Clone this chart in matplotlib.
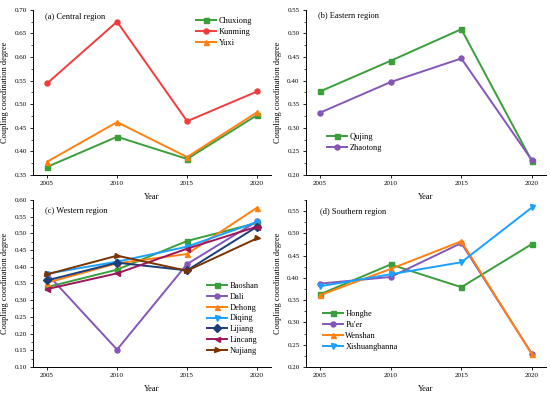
import matplotlib
matplotlib.use("Agg")
import matplotlib.pyplot as plt
from matplotlib.ticker import MultipleLocator, AutoMinorLocator, FormatStrFormatter

plt.rcParams['font.family'] = ['Liberation Serif', 'DejaVu Serif']

years = [2005, 2010, 2015, 2020]

central_names = ["Chuxiong", "Kunming", "Yuxi"]
chuxiong = [0.367, 0.431, 0.384, 0.477]
kunming = [0.544, 0.675, 0.464, 0.527]
yuxi = [0.378, 0.462, 0.388, 0.483]

eastern_names = ["Qujing", "Zhaotong"]
qujing = [0.377, 0.442, 0.509, 0.229]
zhaotong = [0.332, 0.397, 0.447, 0.231]

western_names = ["Baoshan", "Dali", "Dehong", "Diqing", "Lijiang", "Lincang", "Nujiang"]
baoshan = [0.339, 0.391, 0.477, 0.531]
dali = [0.379, 0.152, 0.408, 0.536]
dehong = [0.352, 0.410, 0.438, 0.577]
diqing = [0.379, 0.415, 0.460, 0.534]
lijiang = [0.359, 0.412, 0.389, 0.520]
lincang = [0.333, 0.380, 0.454, 0.520]
nujiang = [0.377, 0.433, 0.388, 0.485]

southern_names = ["Honghe", "Pu'er", "Wenshan", "Xishuangbanna"]
honghe = [0.363, 0.430, 0.379, 0.476]
puer = [0.387, 0.402, 0.478, 0.229]
wenshan = [0.361, 0.420, 0.482, 0.228]
xishuang = [0.381, 0.408, 0.435, 0.558]

GREEN = "#3a9e3a"
RED = "#f23c3c"
ORANGE = "#ff8010"
PURPLE = "#8456b8"
LBLUE = "#1aa0ff"
NAVY = "#1c3d78"
CRIMSON = "#a0145a"
BROWN = "#7a3300"

fig = plt.figure(figsize=(5.5, 3.95), dpi=100)

def make_ax(rect, ylim, title, title_pos, names, series, styles, legend_anchor):
    ax = fig.add_axes(rect)
    for name, vals, (c, m) in zip(names, series, styles):
        ax.plot(years, vals, color=c, marker=m, markersize=3.6, linewidth=1.4, label=name)
    ax.set_xlim(2004, 2021)
    ax.set_ylim(*ylim)
    ax.set_xticks(years)
    ax.yaxis.set_major_locator(MultipleLocator(0.05))
    ax.yaxis.set_minor_locator(AutoMinorLocator(2))
    ax.yaxis.set_major_formatter(FormatStrFormatter('%.2f'))
    for s in ['top', 'right']:
        ax.spines[s].set_visible(False)
    for s in ['left', 'bottom']:
        ax.spines[s].set_linewidth(0.7)
    ax.tick_params(direction='out', labelsize=5, length=2.5, width=0.6, pad=2)
    ax.tick_params(which='minor', direction='out', length=1.5, width=0.5)
    ax.set_xlabel("Year", fontsize=6, labelpad=5)
    ax.set_ylabel("Coupling coordination degree", fontsize=6, labelpad=4)
    ax.text(title_pos[0], title_pos[1], title, transform=ax.transAxes, fontsize=6,
            va='center', ha='left')
    ax.legend(loc='upper left', bbox_to_anchor=legend_anchor, frameon=False, fontsize=6,
              handlelength=2.4, handletextpad=0.3, labelspacing=0.35, borderaxespad=0,
              borderpad=0)
    return ax

make_ax([0.06, 0.557, 0.433, 0.418], (0.35, 0.70), "(a) Central region", (0.05, 0.955),
        central_names, [chuxiong, kunming, yuxi],
        [(GREEN, 's'), (RED, 'o'), (ORANGE, '^')], (0.685, 0.958))

make_ax([0.556, 0.557, 0.437, 0.418], (0.20, 0.55), "(b) Eastern region", (0.05, 0.96),
        eastern_names, [qujing, zhaotong],
        [(GREEN, 's'), (PURPLE, 'o')], (0.0875, 0.255))

make_ax([0.06, 0.071, 0.433, 0.423], (0.10, 0.60), "(c) Western region", (0.05, 0.934),
        western_names, [baoshan, dali, dehong, diqing, lijiang, lincang, nujiang],
        [(GREEN, 's'), (PURPLE, 'o'), (ORANGE, '^'), (LBLUE, 'v'), (NAVY, 'D'),
         (CRIMSON, '<'), (BROWN, '>')], (0.73, 0.51))

make_ax([0.556, 0.071, 0.437, 0.423], (0.20, 0.575), "(d) Southern region", (0.058, 0.93),
        southern_names, [honghe, puer, wenshan, xishuang],
        [(GREEN, 's'), (PURPLE, 'o'), (ORANGE, '^'), (LBLUE, 'v')], (0.071, 0.341))

fig.savefig("out.png", dpi=100)
